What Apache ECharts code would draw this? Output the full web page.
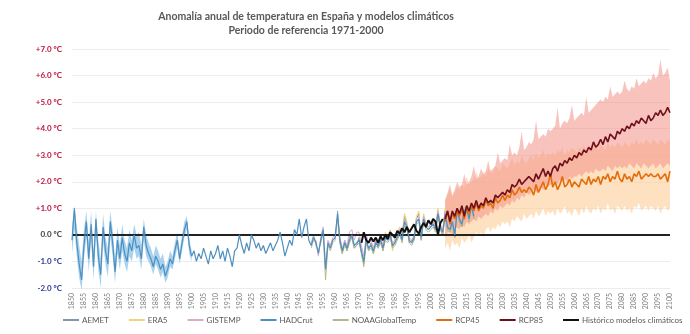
<!DOCTYPE html>
<html><head><meta charset="utf-8">
<script src="https://cdn.jsdelivr.net/npm/echarts@6/dist/echarts.min.js"></script>
<style>html,body{margin:0;padding:0;background:#fff}#c{width:690px;height:334px}</style>
</head><body><div id="c"></div>
<script>
// ---- DATA ----
const firstYear = 1850, lastYear = 2100;

const hadcrutStart = 1850;
const hadcrut = [
 -0.2, 1.0, -0.3, -1.1, -1.7, -0.4, 0.5, -0.9, 0.4, -1.2,
 0.6, -0.8, -1.5, 0.3, -0.6, -1.1, 0.5, -0.3, -1.4, -0.2,
 -0.9, -0.1, -0.7, -1.0, -0.3, -0.6, 0.0, -0.5, -0.4, -0.9,
 0.3, -0.4, -0.7, -0.9, -1.2, -0.8, -1.0, -1.3, -1.1, -1.55,
 -1.3, -0.9, -1.1, -0.6, -0.2, -0.9, -0.3, 0.2, 0.5, -0.4,
 -0.8, -0.6, -1.0, -0.7, -0.9, -0.5, -0.8, -1.1, -0.6, -0.9,
 -0.7, -0.4, -0.9, -0.6, -1.0, -0.5, -0.8, -1.2, -0.6, -0.5,
 0.0, -0.4, -0.7, -0.3, -0.6, 0.0, -0.2, -0.5, -0.3, -0.6,
 -0.4, -0.7, -0.5, -0.3, -0.6, -0.4, -0.2, 0.1, -0.3, -0.8,
 -0.5, -0.2, -0.4, 0.2, 0.0, 0.6, -0.1, 0.3, 0.6, -0.2,
 -0.4, -0.1, -0.3, -0.7, -0.2, 0.2, -1.3, -0.3, -0.5, -0.2,
 -0.1, 0.8, -0.2, -0.6, -0.3, -0.5, -0.2, 0.0, -0.4, -0.3,
 -0.2, -0.6, -1.0, -0.2, -0.5, -0.4, -0.6, -0.3, -0.4, -0.2,
 -0.5, -0.1, -0.2, 0.0, -0.4, -0.3, -0.1, 0.1, -0.2, 0.5,
 0.3, -0.2, -0.3, -0.1, 0.5, 0.6, -0.1, 0.6, 0.3, 0.2,
 0.3, 0.4, 0.2, 0.8, 0.3, 0.1, 0.8, 0.3, 0.2, 0.5,
 0.0, 0.9, 0.6, 0.4, 0.9, 1.0, 0.6, 1.1, 0.7
];
const hadBandStart = 1850;
const hadBandLow = [
 -0.7, 0.2, -0.8, -1.6, -2.1, -0.9, -0.1, -1.4, -0.2, -1.7,
 0.0, -1.3, -2.0, -0.3, -1.1, -1.6, -0.1, -0.8, -1.8, -0.7,
 -1.3, -0.6, -1.1, -1.4, -0.8, -1.0, -0.5, -0.9, -0.8, -1.3,
 -0.2, -0.8, -1.0, -1.2, -1.5, -1.1, -1.3, -1.6, -1.4, -1.8,
 -1.6, -1.2, -1.3, -0.9, -0.5, -1.1, -0.6, -0.1, 0.2, -0.7,
 -1.0
];
const hadBandHigh = [
 0.3, 1.1, 0.3, -0.4, -1.0, 0.2, 0.9, -0.3, 0.9, -0.6,
 0.9, -0.2, -0.9, 0.8, -0.1, -0.5, 0.9, 0.2, -0.9, 0.3,
 -0.4, 0.4, -0.2, -0.5, 0.2, -0.2, 0.4, 0.0, 0.1, -0.4,
 0.6, 0.0, -0.3, -0.5, -0.8, -0.4, -0.6, -0.9, -0.7, -1.2,
 -1.0, -0.6, -0.8, -0.3, 0.1, -0.6, 0.0, 0.5, 0.7, -0.1,
 -0.6
];
const aemetStart = 1961;
const aemet = [
 0.9, -0.3, -0.7, -0.2, -0.6, 0.0, -0.1, -0.5, -0.4, -0.1,
 -0.7, -1.1, -0.1, -0.6, -0.3, -0.7, -0.2, -0.5, -0.1, -0.6,
 0.0, -0.1, 0.1, -0.5, -0.2, 0.0, 0.2, -0.1, 0.7, 0.4,
 -0.3, -0.2, -0.2, 0.6, 0.8, -0.2, 0.7, 0.4, 0.3, 0.3,
 0.5, 0.3, 0.9, 0.2, 0.0, 0.9, 0.2, 0.1, 0.6, -0.1,
 1.0, 0.5, 0.3, 1.0, 1.1, 0.7, 1.2, 0.6
];
const era5Start = 1979;
const era5 = [
 -0.2,
 -0.6, 0.1, -0.1, 0.2, -0.6, -0.1, 0.1, 0.3, 0.0, 0.8,
 0.5, -0.2, -0.3, -0.1, 0.7, 0.9, -0.1, 0.8, 0.4, 0.3,
 0.4, 0.6, 0.3, 1.0, 0.3, 0.1, 1.0, 0.3, 0.2, 0.6,
 0.0, 1.1, 0.6, 0.4, 1.1, 1.2, 0.8, 1.3, 0.8
];
const gistempStart = 1950;
const gistemp = [
 -0.5, -0.2, -0.2, -0.8, -0.1, 0.3, -1.2, -0.2, -0.4, -0.1,
 0.0, 0.7, -0.1, -0.5, -0.2, -0.4, 0.1, 0.2, -0.2, 0.1,
 0.1, -0.4, -0.8, 0.0, -0.3, -0.2, -0.5, -0.1, -0.3, 0.0,
 -0.4, 0.0, -0.1, 0.1, -0.3, -0.2, 0.0, 0.2, -0.1, 0.6,
 0.4, -0.1, -0.2, 0.0, 0.6, 0.7, 0.0, 0.7, 0.4, 0.3,
 0.4, 0.5, 0.3, 0.9, 0.4, 0.2, 0.9, 0.4, 0.3, 0.6,
 0.1, 1.0, 0.7, 0.5, 1.0, 1.1, 0.7, 1.2, 0.8
];
const noaaStart = 1950;
const noaa = [
 -0.3, 0.0, -0.4, -0.6, -0.3, 0.1, -1.7, -0.4, -0.6, -0.3,
 -0.2, 0.6, -0.3, -0.7, -0.4, -0.6, -0.3, -0.1, -0.5, -0.4,
 -0.3, -0.7, -1.2, -0.3, -0.6, -0.5, -0.7, -0.4, -0.5, -0.3,
 -0.6, -0.2, -0.3, -0.1, -0.5, -0.4, -0.2, 0.0, -0.3, 0.4,
 0.2, -0.3, -0.4, -0.2, 0.4, 0.5, -0.2, 0.5, 0.2, 0.1,
 0.2, 0.3, 0.1, 0.7, 0.2, 0.0, 0.7, 0.2, 0.1, 0.4,
 -0.1, 0.8, 0.5, 0.3, 0.8, 0.9, 0.5, 1.0, 0.6
];
const histStart = 1971;
const historico = [
 -0.3, 0.1, -0.2, -0.3, -0.1, -0.25, -0.1, -0.3, -0.05, -0.2,
 0.0, -0.15, 0.1, 0.0, -0.1, 0.15, 0.05, 0.25, 0.1, 0.3,
 0.1, 0.25, 0.4, 0.15, 0.05, 0.3, 0.45, 0.3, 0.55, 0.4,
 0.6, 0.5, 0.0, 0.45, 0.6
];
const rcpStart = 2006;
const rcp45 = [
 0.5, 0.9, 0.4, 0.8, 0.6,
 0.9, 0.7, 1.0, 0.6, 1.0, 0.8, 1.1, 0.9, 1.2, 0.9,
 1.1, 1.0, 1.3, 1.1, 1.2, 1.0, 1.4, 1.2, 1.3, 1.5,
 1.3, 1.5, 1.4, 1.7, 1.5, 1.6, 1.8, 1.6, 1.7, 1.6,
 1.8, 1.7, 1.5, 1.9, 1.6, 1.8, 2.0, 1.7, 1.9, 2.3,
 1.8, 2.0, 1.7, 1.9, 2.2, 1.8, 1.9, 2.1, 1.8, 2.0,
 1.9, 1.8, 2.1, 2.0, 1.9, 2.2, 1.9, 2.1, 2.0, 2.2,
 1.9, 2.2, 2.1, 2.3, 2.0, 2.2, 2.1, 2.4, 2.1, 2.0,
 2.3, 2.1, 2.2, 2.0, 2.3, 2.2, 2.4, 2.1, 2.2, 2.3,
 2.2, 2.3, 2.2, 2.2, 2.3, 2.1, 2.2, 2.3, 2.0, 2.4
];
const rcp85 = [
 0.6, 0.9, 0.5, 0.9, 0.7,
 1.0, 0.8, 1.1, 0.7, 1.1, 0.9, 1.2, 1.0, 1.3, 1.0,
 1.2, 1.1, 1.4, 1.2, 1.3, 1.2, 1.5, 1.4, 1.5, 1.6,
 1.5, 1.7, 1.6, 1.9, 1.8, 1.9, 2.1, 1.9, 2.0, 2.1,
 2.2, 2.1, 2.0, 2.3, 2.1, 2.3, 2.5, 2.2, 2.4, 2.2,
 2.5, 2.6, 2.4, 2.7, 2.6, 2.8, 2.7, 2.9, 2.8, 3.0,
 2.9, 3.1, 3.0, 3.2, 3.1, 3.3, 3.2, 3.5, 3.3, 3.4,
 3.6, 3.4, 3.7, 3.5, 3.8, 3.7, 3.6, 3.9, 3.8, 4.0,
 3.9, 4.1, 4.0, 4.2, 4.1, 4.3, 4.2, 4.4, 4.3, 4.2,
 4.5, 4.3, 4.4, 4.6, 4.5, 4.7, 4.5, 4.6, 4.8, 4.6
];
const rcp45Low = [
 -0.5, -0.3, -0.6, -0.2, -0.4,
 -0.3, -0.5, -0.1, -0.3, -0.2, 0.0, -0.3, -0.1, 0.1, 0.0,
 0.1, -0.1, 0.2, 0.3, 0.1, 0.3, 0.2, 0.4, 0.3, 0.5,
 0.4, 0.5, 0.3, 0.6, 0.5, 0.7, 0.6, 0.5, 0.8, 0.6,
 0.7, 0.8, 0.6, 0.9, 0.7, 0.8, 1.0, 0.7, 0.9, 0.8,
 0.9, 0.7, 1.0, 0.8, 0.9, 1.1, 0.8, 0.9, 0.7, 1.0,
 0.9, 0.7, 1.0, 0.8, 1.1, 0.9, 0.8, 1.0, 0.9, 1.1,
 0.8, 1.0, 0.9, 1.2, 0.9, 1.0, 0.8, 1.1, 1.0, 0.9,
 1.1, 0.9, 1.0, 0.8, 1.1, 1.0, 1.2, 0.9, 1.0, 1.1,
 0.9, 1.1, 1.0, 0.9, 1.1, 0.8, 1.0, 1.1, 0.9, 1.0
];
const rcp45High = [
 1.3, 1.5, 1.7, 1.4, 1.6,
 1.8, 1.7, 1.9, 1.8, 2.2, 1.9, 2.0, 2.1, 2.4, 2.1,
 2.2, 2.3, 2.2, 2.5, 2.4, 2.3, 2.6, 2.5, 2.4, 2.7,
 2.6, 2.5, 2.7, 2.9, 2.6, 2.8, 2.7, 3.0, 2.8, 2.7,
 2.9, 3.0, 2.8, 3.1, 2.9, 3.0, 3.2, 2.9, 3.1, 3.0,
 3.1, 3.0, 3.2, 3.1, 3.3, 3.0, 3.2, 3.1, 3.3, 3.2,
 3.1, 3.3, 3.2, 3.4, 3.1, 3.3, 3.2, 3.4, 3.3, 3.2,
 3.4, 3.3, 3.2, 3.5, 3.3, 3.4, 3.3, 3.5, 3.4, 3.3,
 3.5, 3.4, 3.3, 3.5, 3.4, 3.6, 3.4, 3.5, 3.4, 3.6,
 3.5, 3.4, 3.6, 3.5, 3.4, 3.6, 3.5, 3.4, 3.6, 3.5
];
const rcp85Low = [
 -0.1, 0.1, 0.2, 0.0, 0.2,
 0.3, 0.2, 0.4, 0.3, 0.5, 0.4, 0.5, 0.6, 0.5, 0.7,
 0.6, 0.7, 0.8, 0.7, 0.9, 0.8, 1.0, 0.9, 1.1, 1.0,
 1.1, 1.2, 1.1, 1.3, 1.2, 1.4, 1.3, 1.5, 1.4, 1.6,
 1.5, 1.6, 1.7, 1.6, 1.7, 1.8, 1.7, 1.9, 1.8, 1.9,
 1.9, 2.0, 1.9, 2.1, 2.0, 2.1, 2.0, 2.2, 2.1, 2.2,
 2.2, 2.3, 2.2, 2.3, 2.4, 2.3, 2.4, 2.3, 2.5, 2.4,
 2.4, 2.5, 2.4, 2.6, 2.5, 2.4, 2.6, 2.5, 2.6, 2.5,
 2.6, 2.5, 2.7, 2.6, 2.5, 2.7, 2.6, 2.5, 2.7, 2.6,
 2.5, 2.6, 2.7, 2.5, 2.6, 2.7, 2.5, 2.6, 2.7, 2.6
];
const rcp85High = [
 1.3, 1.6, 1.9, 1.5, 1.7,
 2.0, 1.8, 1.9, 2.3, 1.9, 2.0, 2.2, 2.6, 2.1, 2.2,
 2.5, 2.3, 2.4, 2.8, 2.4, 2.5, 2.6, 3.1, 2.7, 2.8,
 2.9, 2.8, 3.4, 3.0, 3.1, 3.0, 3.3, 3.9, 3.2, 3.3,
 3.5, 3.4, 3.6, 4.3, 3.6, 3.7, 3.8, 3.7, 4.0, 3.9,
 4.0, 4.1, 4.8, 4.0, 4.2, 4.3, 4.2, 4.4, 4.9, 4.3,
 4.4, 4.5, 4.6, 4.5, 5.2, 4.6, 4.7, 4.8, 4.9, 5.0,
 5.1, 5.0, 5.2, 5.1, 5.6, 5.2, 5.3, 5.4, 5.3, 5.4,
 5.8, 5.5, 5.4, 5.6, 5.5, 5.9, 5.6, 5.7, 5.8, 5.7,
 5.9, 5.8, 6.1, 5.9, 6.0, 6.6, 6.0, 6.1, 6.3, 5.8
];
const titleLines = ['Anomalía anual de temperatura en España y modelos climáticos', 'Periodo de referencia 1971-2000'];

// ---- BUILD ----
const years = [];
for (let y = firstYear; y <= lastYear; y++) years.push(String(y));
function place(start, arr) {
  const out = new Array(years.length).fill(null);
  arr.forEach((v, i) => { out[start - firstYear + i] = v; });
  return out;
}
function diff(hi, lo) { return hi.map((v, i) => (v == null || lo[i] == null) ? null : +(v - lo[i]).toFixed(3)); }

const hadLowP = place(hadBandStart, hadBandLow), hadHighP = place(hadBandStart, hadBandHigh);
const r45LowP = place(rcpStart, rcp45Low), r45HighP = place(rcpStart, rcp45High);
const r85LowP = place(rcpStart, rcp85Low), r85HighP = place(rcpStart, rcp85High);

function band(stackName, low, high, color, z) {
  return [
    { type: 'line', stack: stackName, stackStrategy: 'all', data: low, symbol: 'none', lineStyle: { opacity: 0 }, silent: true, z: z },
    { type: 'line', stack: stackName, stackStrategy: 'all', data: diff(high, low), symbol: 'none', lineStyle: { opacity: 0 }, areaStyle: { color: color, opacity: 1 }, silent: true, z: z }
  ];
}
function line(name, data, color, width, z) {
  return { name: name, type: 'line', data: data, symbol: 'none', lineStyle: { color: color, width: width }, itemStyle: { color: color }, z: z };
}

const series = [
  ...band('b45', r45LowP, r45HighP, 'rgba(252,205,150,0.6)', 1),
  ...band('b85', r85LowP, r85HighP, 'rgba(244,145,135,0.55)', 2),
  ...band('bhad', hadLowP, hadHighP, 'rgba(140,195,232,0.75)', 1),
  line('AEMET', place(aemetStart, aemet), '#8297ac', 1, 4),
  line('ERA5', place(era5Start, era5), '#ecd57a', 1, 4),
  line('GISTEMP', place(gistempStart, gistemp), '#dcaacb', 1, 4),
  line('HADCrut', place(hadcrutStart, hadcrut), '#4f8fbf', 1.2, 5),
  line('NOAAGlobalTemp', place(noaaStart, noaa), '#b7b98a', 1, 4),
  line('RCP45', place(rcpStart, rcp45), '#e46c0a', 1.6, 6),
  line('RCP85', place(rcpStart, rcp85), '#6e0f1c', 1.6, 7),
  Object.assign(line('Histórico modelos climáticos', place(histStart, historico), '#111111', 2, 8), {
    markLine: { silent: true, symbol: ['none', 'none'], label: { show: false },
      lineStyle: { color: '#222', width: 2, type: 'solid' }, data: [{ yAxis: 0 }] }
  })
];

const chart = echarts.init(document.getElementById('c'), null, { renderer: 'canvas' });
chart.setOption({
  animation: false,
  backgroundColor: '#ffffff',
  textStyle: { fontFamily: 'Lato, "Open Sans", sans-serif' },
  grid: { left: 72, right: 20, top: 49, bottom: 46 },
  graphic: [
    { type: 'text', x: 306, y: 11, style: { text: titleLines[0], textAlign: 'center', fill: '#595959', font: 'bold 10.5px Lato, sans-serif' } },
    { type: 'text', x: 306, y: 25, style: { text: titleLines[1], textAlign: 'center', fill: '#595959', font: 'bold 10.5px Lato, sans-serif' } }
  ],
  legend: {
    bottom: 5, left: 58, itemGap: 20, itemWidth: 16, itemHeight: 2, icon: 'rect',
    data: ['AEMET', 'ERA5', 'GISTEMP', 'HADCrut', 'NOAAGlobalTemp', 'RCP45', 'RCP85', 'Histórico modelos climáticos'],
    textStyle: { fontSize: 8, color: '#595959', padding: [0, 0, 0, -2] }
  },
  xAxis: {
    type: 'category', data: years, boundaryGap: false,
    axisLine: { show: false }, axisTick: { show: false },
    axisLabel: { interval: 4, rotate: 90, fontSize: 7, color: '#7f7f7f', margin: 5 }
  },
  yAxis: {
    type: 'value', min: -2, max: 7, interval: 1,
    axisLine: { show: false }, axisTick: { show: false },
    splitLine: { lineStyle: { color: '#ececec', width: 1 } },
    axisLabel: {
      fontSize: 8, fontWeight: 'bold', margin: 10,
      formatter: v => (v > 0 ? '+' : '') + v.toFixed(1) + ' ºC',
      color: v => (v > 0 ? '#c0143c' : (v < 0 ? '#2f3a9a' : '#404040'))
    }
  },
  series: series
});
</script></body></html>
